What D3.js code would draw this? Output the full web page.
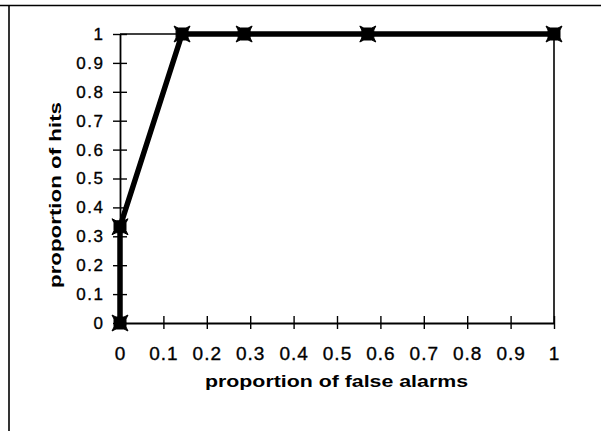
<!DOCTYPE html>
<html>
<head>
<meta charset="utf-8">
<script src="https://cdn.jsdelivr.net/npm/d3@7"></script>
<style>
  html, body { margin: 0; padding: 0; background: #fff; }
  svg { display: block; }
  text { font-family: "Liberation Sans", Arial, Helvetica, sans-serif; fill: #000; }
</style>
</head>
<body>
<svg id="chart" width="601" height="431"></svg>
<script>
// ROC points: proportion of false alarms vs proportion of hits
const falseAlarms = [0, 0, 0.143, 0.286, 0.571, 1];
const hits = [0, 0.333, 1, 1, 1, 1];
const xTicks = [0, 0.1, 0.2, 0.3, 0.4, 0.5, 0.6, 0.7, 0.8, 0.9, 1];
const yTicks = [0, 0.1, 0.2, 0.3, 0.4, 0.5, 0.6, 0.7, 0.8, 0.9, 1];
const xTitle = "proportion of false alarms";
const yTitle = "proportion of hits";

const svg = d3.select("#chart");
const W = 601, H = 431;
const plotLeft = 120, plotRight = 554, plotTop = 34, plotBottom = 323;

const x = d3.scaleLinear().domain([0, 1]).range([plotLeft, plotRight]);
const y = d3.scaleLinear().domain([0, 1]).range([plotBottom, plotTop]);

// outer frame (top and left edges)
svg.append("line").attr("x1", 0).attr("x2", W).attr("y1", 5.5).attr("y2", 5.5)
  .attr("stroke", "#000").attr("stroke-width", 1.6);
svg.append("line").attr("x1", 9).attr("x2", 9).attr("y1", 5).attr("y2", H)
  .attr("stroke", "#000").attr("stroke-width", 1.6);

// plot area border (top and right)
svg.append("line").attr("x1", x(0)).attr("x2", x(1)).attr("y1", y(1)).attr("y2", y(1))
  .attr("stroke", "#000").attr("stroke-width", 1.6);
svg.append("line").attr("x1", x(1)).attr("x2", x(1)).attr("y1", y(1)).attr("y2", y(0))
  .attr("stroke", "#000").attr("stroke-width", 1.6);

// axes with ticks that cross the axis line
const fmt = d => d3.format("")(d);
const xAxis = svg.append("g").attr("transform", `translate(0,${plotBottom})`)
  .call(d3.axisBottom(x).tickValues(xTicks).tickFormat(fmt)
    .tickSizeInner(6).tickSizeOuter(0).tickPadding(18));
const yAxis = svg.append("g").attr("transform", `translate(${plotLeft},0)`)
  .call(d3.axisLeft(y).tickValues(yTicks).tickFormat(fmt)
    .tickSizeInner(7).tickSizeOuter(0).tickPadding(8.5));

[xAxis, yAxis].forEach(g => {
  g.attr("font-family", null).attr("font-size", null);
  g.select(".domain").attr("stroke", "#000").attr("stroke-width", 1.8);
  g.selectAll(".tick line").attr("stroke", "#000").attr("stroke-width", 1.4);
  g.selectAll(".tick text").attr("fill", "#000")
    .attr("stroke", "#000").attr("stroke-width", 0.35);
});
xAxis.selectAll(".tick line").attr("y1", -7).attr("y2", 6);
yAxis.selectAll(".tick line").attr("x1", 7).attr("x2", -7);
xAxis.selectAll(".tick text").style("font-size", "19px").style("letter-spacing", "1px")
  .attr("dy", "0.71em");
yAxis.selectAll(".tick text").style("font-size", "17px").style("letter-spacing", "1.5px");

// axis titles
svg.append("text").attr("x", (205 + 468) / 2).attr("y", 387)
  .attr("text-anchor", "middle").style("font-size", "17px").attr("font-weight", "bold")
  .attr("textLength", 263).attr("lengthAdjust", "spacingAndGlyphs")
  .text(xTitle);
svg.append("text").attr("transform", `translate(61,${(102 + 288) / 2}) rotate(-90)`)
  .attr("text-anchor", "middle").style("font-size", "17px").attr("font-weight", "bold")
  .attr("textLength", 186).attr("lengthAdjust", "spacingAndGlyphs")
  .text(yTitle);

// ROC curve
const pts = falseAlarms.map((f, i) => [f, hits[i]]);
svg.append("path").datum(pts)
  .attr("d", d3.line().x(d => x(d[0])).y(d => y(d[1])))
  .attr("fill", "none").attr("stroke", "#000").attr("stroke-width", 5.5)
  .attr("stroke-linejoin", "round");

// bow-tie square markers
const marker = "M-8,-8 L-4,-6 L4,-6 L8,-8 L6,-4 L6,4 L8,8 L4,6 L-4,6 L-8,8 L-6,4 L-6,-4 Z";
svg.append("g").selectAll("path").data(pts).join("path")
  .attr("transform", d => `translate(${x(d[0])},${y(d[1])})`)
  .attr("d", marker).attr("fill", "#000").attr("stroke", "#000").attr("stroke-width", 1);
</script>
</body>
</html>
